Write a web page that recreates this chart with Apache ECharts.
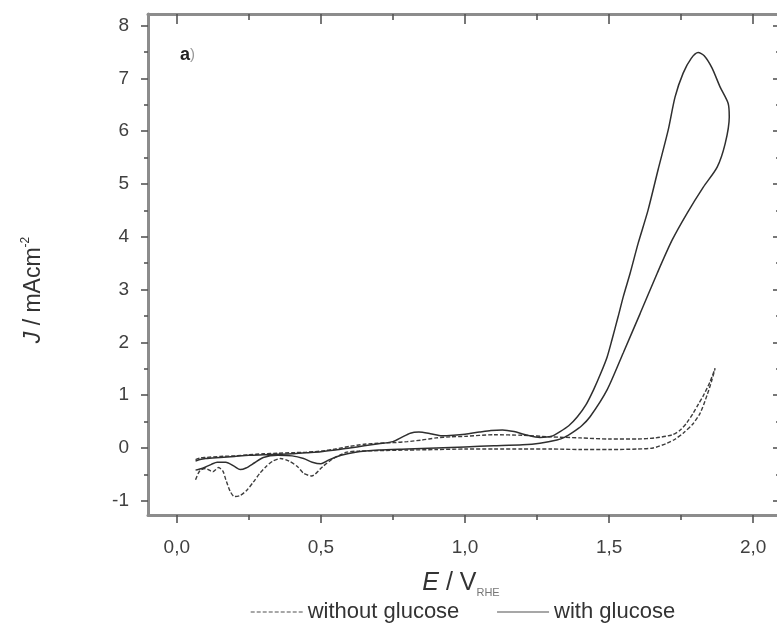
<!DOCTYPE html>
<html>
<head>
<meta charset="utf-8">
<script src="https://cdn.jsdelivr.net/npm/echarts@6/dist/echarts.min.js"></script>
<style>
  html, body { margin: 0; padding: 0; background: #fff; }
  #chart { width: 777px; height: 630px; }
</style>
</head>
<body>
<div id="chart"></div>
<script>
// Cyclic voltammograms, potential E (V vs RHE) against current density j (mA cm^-2)
const withoutGlucose = [
  // anodic sweep
  [0.065,-0.22],[0.08,-0.19],[0.10,-0.18],[0.15,-0.16],[0.20,-0.15],[0.25,-0.13],[0.30,-0.11],
  [0.35,-0.10],[0.40,-0.09],[0.45,-0.08],[0.50,-0.06],[0.55,-0.02],[0.60,0.03],[0.65,0.07],
  [0.70,0.09],[0.75,0.10],[0.80,0.12],[0.85,0.15],[0.90,0.19],[0.95,0.21],[1.00,0.22],
  [1.10,0.25],[1.20,0.24],[1.30,0.21],[1.40,0.19],[1.50,0.17],[1.60,0.17],[1.66,0.19],
  [1.72,0.25],[1.747,0.34],[1.77,0.48],[1.792,0.66],[1.81,0.83],[1.827,0.99],[1.85,1.25],
  [1.868,1.51],
  // cathodic sweep
  [1.857,1.29],[1.84,1.0],[1.816,0.66],[1.79,0.45],[1.757,0.28],[1.73,0.17],[1.701,0.09],
  [1.653,0.0],[1.60,-0.02],[1.50,-0.03],[1.40,-0.03],[1.30,-0.02],[1.20,-0.02],[1.10,-0.02],
  [1.00,-0.02],[0.90,-0.03],[0.80,-0.04],[0.70,-0.05],[0.63,-0.06],[0.59,-0.08],[0.543,-0.2],
  [0.507,-0.35],[0.468,-0.53],[0.44,-0.48],[0.42,-0.36],[0.39,-0.25],[0.36,-0.2],[0.333,-0.25],
  [0.31,-0.35],[0.288,-0.48],[0.265,-0.65],[0.243,-0.8],[0.22,-0.9],[0.20,-0.92],[0.185,-0.82],
  [0.17,-0.6],[0.16,-0.44],[0.145,-0.37],[0.125,-0.45],[0.10,-0.39],[0.08,-0.43],[0.065,-0.6]
];

const withGlucose = [
  // anodic sweep
  [0.065,-0.25],[0.08,-0.22],[0.10,-0.2],[0.15,-0.18],[0.20,-0.16],[0.25,-0.14],[0.30,-0.13],
  [0.35,-0.12],[0.40,-0.11],[0.45,-0.09],[0.50,-0.07],[0.55,-0.04],[0.60,0.0],[0.65,0.04],
  [0.70,0.08],[0.75,0.12],[0.78,0.2],[0.81,0.28],[0.84,0.3],[0.88,0.27],[0.92,0.23],
  [0.96,0.24],[1.00,0.26],[1.05,0.3],[1.09,0.33],[1.13,0.34],[1.17,0.31],[1.21,0.25],
  [1.26,0.2],[1.30,0.22],[1.33,0.31],[1.36,0.42],[1.39,0.59],[1.42,0.82],[1.446,1.1],
  [1.47,1.4],[1.493,1.72],[1.51,2.05],[1.531,2.48],[1.55,2.88],[1.573,3.31],[1.601,3.88],
  [1.635,4.5],[1.67,5.27],[1.705,6.02],[1.729,6.65],[1.757,7.1],[1.785,7.38],[1.809,7.49],
  [1.83,7.43],[1.857,7.2],[1.885,6.84],[1.913,6.53],
  // cathodic sweep
  [1.917,6.27],[1.903,5.77],[1.875,5.32],[1.827,4.94],[1.771,4.45],[1.719,3.94],[1.667,3.31],
  [1.608,2.55],[1.549,1.8],[1.493,1.1],[1.434,0.59],[1.405,0.42],[1.375,0.3],[1.345,0.2],
  [1.319,0.15],[1.26,0.09],[1.20,0.06],[1.10,0.04],[1.00,0.02],[0.90,0.0],[0.80,-0.02],
  [0.70,-0.04],[0.62,-0.08],[0.57,-0.14],[0.53,-0.22],[0.50,-0.3],[0.47,-0.27],[0.44,-0.2],
  [0.40,-0.15],[0.35,-0.14],[0.30,-0.18],[0.27,-0.28],[0.24,-0.38],[0.22,-0.41],[0.20,-0.35],
  [0.17,-0.27],[0.14,-0.27],[0.12,-0.31],[0.10,-0.36],[0.08,-0.4],[0.065,-0.42]
];

// Axis tick positions and labels
const xMajorTicks = [0, 0.5, 1.0, 1.5, 2.0];
const xMinorTicks = [0.25, 0.75, 1.25, 1.75];
const yMajorTicks = [-1, 0, 1, 2, 3, 4, 5, 6, 7, 8];
const yMinorTicks = [-0.5, 0.5, 1.5, 2.5, 3.5, 4.5, 5.5, 6.5, 7.5];
const seriesNames = ['without glucose', 'with glucose'];

const FONT = 'Liberation Sans, Arial, sans-serif';
const AXIS_GREY = '#8c8c8c';
const TICK_GREY = '#555';
const LABEL_COLOR = '#404040';
const X_RANGE = { min: -0.1, max: 2.1 };
const Y_RANGE = { min: -1.27, max: 8.22 };

function xAxisDef(position, ticks, len, inside, withLine, withLabels) {
  return Object.assign({
    type: 'value', position: position, offset: 0,
    axisLine: { show: withLine, onZero: false, lineStyle: { color: AXIS_GREY, width: 3 } },
    axisTick: { show: true, inside: inside, length: len, customValues: ticks,
                lineStyle: { color: TICK_GREY, width: 1.6 } },
    axisLabel: withLabels ? {
      show: true, customValues: ticks, margin: 23, color: LABEL_COLOR,
      fontFamily: FONT, fontSize: 19,
      formatter: v => v.toFixed(1).replace('.', ',')
    } : { show: false },
    splitLine: { show: false }
  }, X_RANGE);
}

function yAxisDef(position, ticks, len, inside, withLine, withLabels) {
  return Object.assign({
    type: 'value', position: position, offset: 0,
    axisLine: { show: withLine, onZero: false, lineStyle: { color: AXIS_GREY, width: 3 } },
    axisTick: { show: true, inside: inside, length: len, customValues: ticks,
                lineStyle: { color: TICK_GREY, width: 1.6 } },
    axisLabel: withLabels ? {
      show: true, customValues: ticks, margin: 19, color: LABEL_COLOR,
      fontFamily: FONT, fontSize: 19
    } : { show: false },
    splitLine: { show: false }
  }, Y_RANGE);
}

const chart = echarts.init(document.getElementById('chart'), null, { renderer: 'canvas' });

chart.setOption({
  animation: false,
  backgroundColor: '#fff',
  grid: { left: 148, top: 14, width: 634, height: 501, containLabel: false, outerBoundsMode: 'none' },
  xAxis: [
    xAxisDef('bottom', xMajorTicks, 8, false, true, true),
    xAxisDef('bottom', xMinorTicks, 5, false, false, false),
    xAxisDef('top', xMajorTicks, 10, true, true, false),
    xAxisDef('top', xMinorTicks, 6, true, false, false)
  ],
  yAxis: [
    yAxisDef('left', yMajorTicks, 7, false, true, true),
    yAxisDef('left', yMinorTicks, 4, false, false, false),
    yAxisDef('right', yMajorTicks, 9, true, true, false),
    yAxisDef('right', yMinorTicks, 6, true, false, false)
  ],
  legend: {
    left: 245, top: 596,
    itemWidth: 52, itemHeight: 10, itemGap: 37,
    textStyle: { fontFamily: FONT, fontSize: 22, color: '#333' },
    lineStyle: { color: '#8a8a8a', width: 1.4 },
    itemStyle: { opacity: 0 },
    data: seriesNames
  },
  series: [
    {
      name: seriesNames[0], type: 'line', data: withoutGlucose,
      xAxisIndex: 0, yAxisIndex: 0, symbol: 'none', smooth: 0.25,
      lineStyle: { color: '#3d3d3d', width: 1.4, type: [4, 2] },
      itemStyle: { color: '#3d3d3d' }
    },
    {
      name: seriesNames[1], type: 'line', data: withGlucose,
      xAxisIndex: 0, yAxisIndex: 0, symbol: 'none', smooth: 0.25,
      lineStyle: { color: '#2f2f2f', width: 1.5, type: 'solid' },
      itemStyle: { color: '#2f2f2f' }
    }
  ],
  graphic: [
    {
      type: 'text', x: 180, y: 55,
      style: {
        text: '{b|a}{n|)}', textVerticalAlign: 'middle',
        rich: {
          b: { fontFamily: FONT, fontSize: 18, fontWeight: 'bold', fill: '#222' },
          n: { fontFamily: FONT, fontSize: 15, fill: '#999' }
        }
      }
    },
    {
      type: 'text', x: 34, y: 290, rotation: Math.PI / 2,
      style: {
        text: '{i|J}{m| / mAcm}{s|-2}', textAlign: 'center', textVerticalAlign: 'middle',
        rich: {
          i: { fontFamily: FONT, fontSize: 23, fontStyle: 'italic', fill: '#333', lineHeight: 28 },
          m: { fontFamily: FONT, fontSize: 23, fill: '#333', lineHeight: 28 },
          s: { fontFamily: FONT, fontSize: 12, fill: '#333', lineHeight: 13, verticalAlign: 'top' }
        }
      }
    },
    {
      type: 'text', x: 461, y: 583,
      style: {
        text: '{i|E}{m| / V}{s|RHE}', textAlign: 'center', textVerticalAlign: 'middle',
        rich: {
          i: { fontFamily: FONT, fontSize: 25, fontStyle: 'italic', fill: '#333', lineHeight: 30 },
          m: { fontFamily: FONT, fontSize: 25, fill: '#333', lineHeight: 30 },
          s: { fontFamily: FONT, fontSize: 11, fill: '#777', lineHeight: 12, verticalAlign: 'bottom' }
        }
      }
    }
  ]
});
</script>
</body>
</html>
